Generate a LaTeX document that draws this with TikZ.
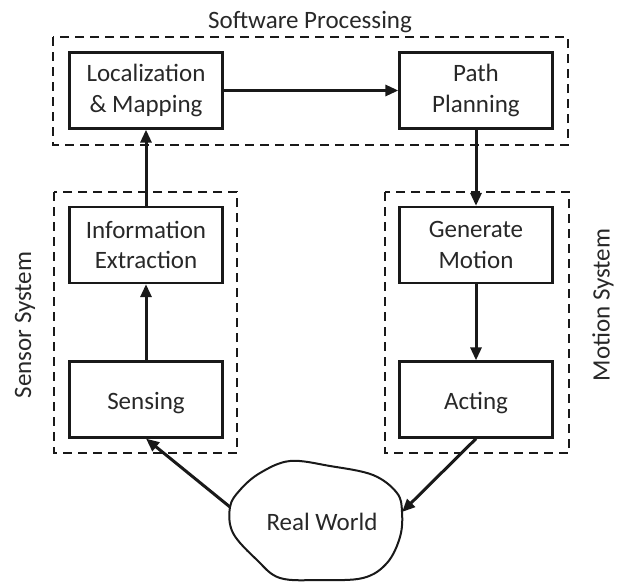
\documentclass[tikz,border=0pt]{standalone}
\usepackage{fontspec}
\setmainfont{Carlito}
\usetikzlibrary{arrows.meta}
\definecolor{ink}{RGB}{25,25,25}
\definecolor{txt}{RGB}{40,40,40}
\begin{document}
\begin{tikzpicture}[x=1pt,y=-1pt,
  lbl/.style={font=\fontsize{25}{30.5}\selectfont, text=txt},
  blk/.style={draw=ink, line width=2.3pt, minimum width=153pt, minimum height=76pt, inner sep=0pt, align=center, lbl,
    execute at begin node={\rule{0pt}{24pt}}},
  grp/.style={draw=ink, line width=2pt, dash pattern=on 9pt off 6pt},
  flow/.style={draw=ink, line width=3pt, -{Triangle[length=13pt,width=11pt]}}]
\useasboundingbox (0,0) rectangle (620,581);
% group frames
\draw[grp] (53,37) rectangle (568,145);
\draw[grp] (54,192) rectangle (237,453);
\draw[grp] (385,192) rectangle (569,453);
% group labels
\node[lbl, anchor=base] (swp) at (310,28) {Software Processing};
\node[lbl, rotate=90] (sens) at (25,325) {Sensor System};
\node[lbl, rotate=90] (mots) at (603,305) {Motion System};
% blocks
\node[blk] (loc) at (146,90.5) {Localization\\\& Mapping};
\node[blk] (path) at (476,90.5) {Path\\Planning};
\node[blk] (info) at (146,245) {Information\\Extraction};
\node[blk] (gen) at (476,245) {Generate\\Motion};
\node[blk] (sensing) at (146,399.5) {Sensing};
\node[blk] (acting) at (476,399.5) {Acting};
% real world blob
\draw[ink, line width=2pt] plot[smooth cycle, tension=0.6] coordinates {
  (290,461) (330,466) (373,475) (397,493) (402,512) (400,537) (387,563)
  (363,578) (320,580) (280,578) (257,560) (233,533) (230,507) (240,490) (260,473)};
\node[lbl, anchor=base] (rw) at (322,530) {Real World};
\coordinate (rwL) at (230,507);
\coordinate (rwR) at (402,512);
% connectors
\draw[flow] (loc) -- (path);
\draw[flow] (info) -- (loc);
\draw[flow] (sensing) -- (info);
\draw[flow] (path) -- (gen);
\draw[flow] (gen) -- (acting);
\draw[flow] (rwL) -- (sensing.south);
\draw[flow] (acting.south) -- (rwR);
\end{tikzpicture}
\end{document}
